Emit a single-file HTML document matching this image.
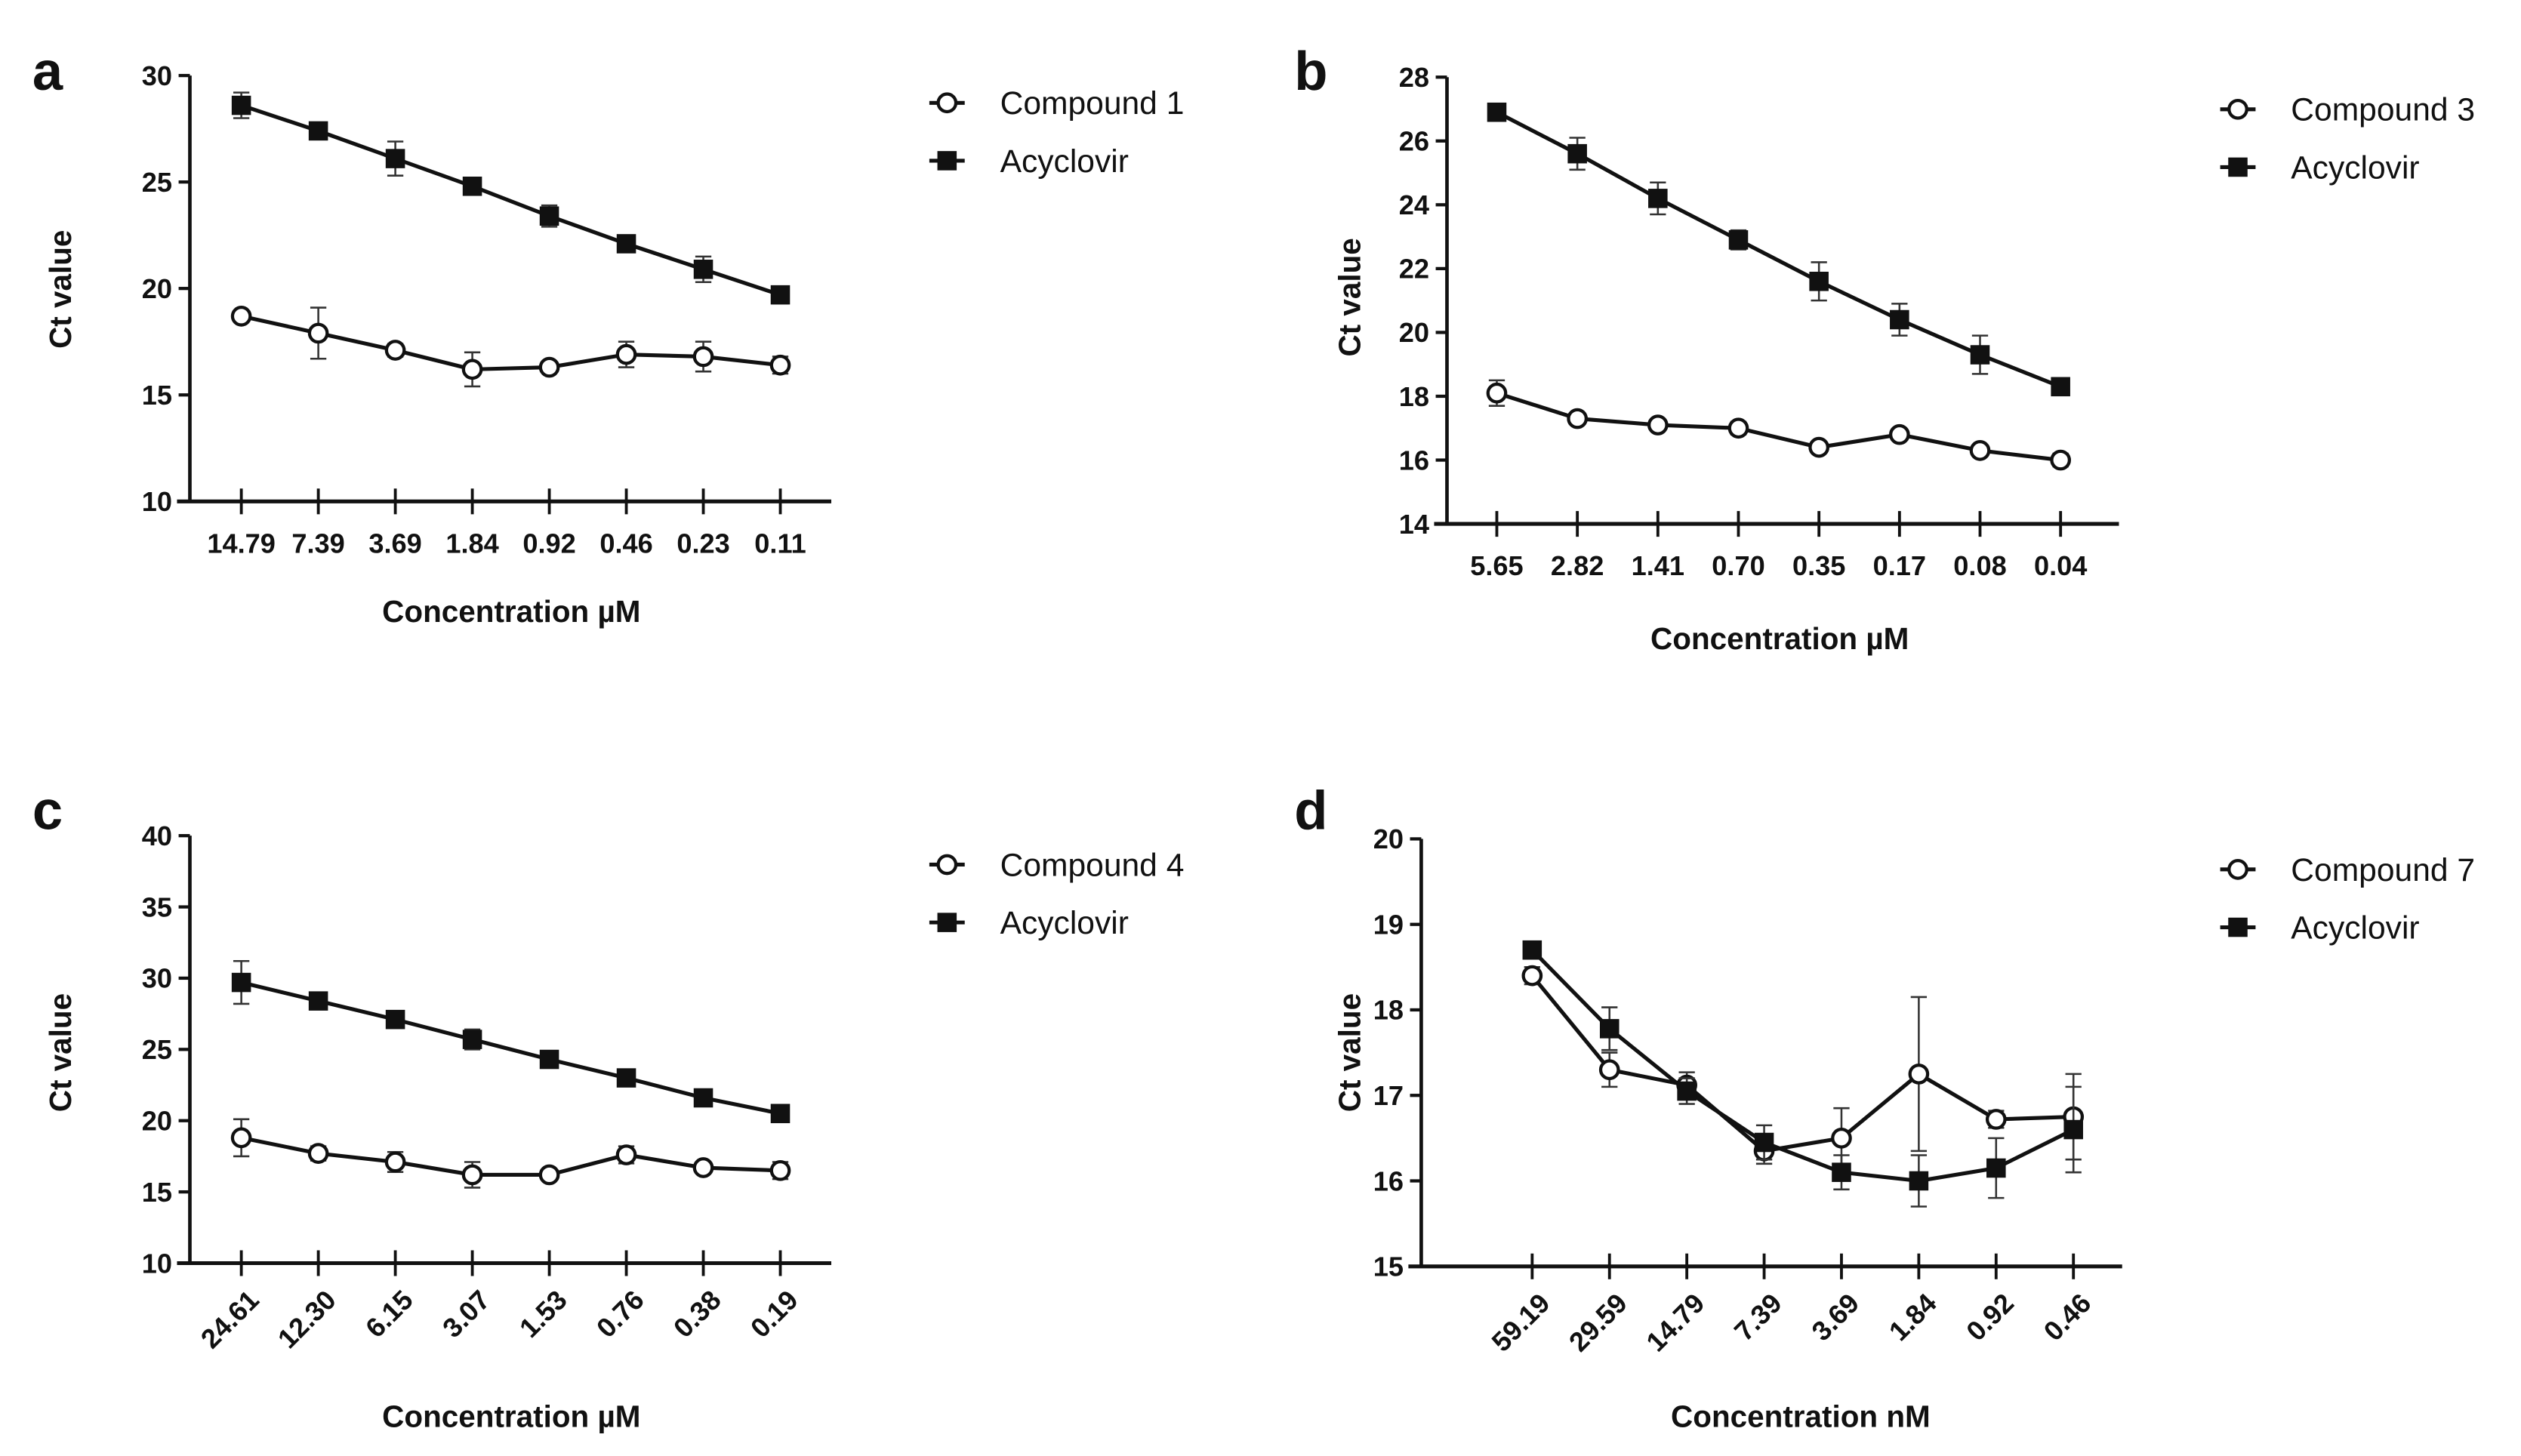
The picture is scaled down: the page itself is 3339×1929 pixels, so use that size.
<!DOCTYPE html>
<html><head><meta charset="utf-8"><style>
html,body{margin:0;padding:0;background:#fff}
svg{display:block}
text{font-family:"Liberation Sans",Arial,sans-serif;fill:#111}
</style></head><body>
<svg id="fig" width="3339" height="1929" viewBox="0 0 1568 906" xmlns="http://www.w3.org/2000/svg"></svg>
<script>
const catsA=["14.79","7.39","3.69","1.84","0.92","0.46","0.23","0.11"];
const acyA=[28.6,27.4,26.1,24.8,23.4,22.1,20.9,19.7];
const acyAErr=[0.6,0.2,0.8,0.2,0.5,0.3,0.6,0.4];
const cmpA=[18.7,17.9,17.1,16.2,16.3,16.9,16.8,16.4];
const cmpAErr=[0.2,1.2,0.3,0.8,0.2,0.6,0.7,0.4];
const ticksA=[10,15,20,25,30];

const catsB=["5.65","2.82","1.41","0.70","0.35","0.17","0.08","0.04"];
const acyB=[26.9,25.6,24.2,22.9,21.6,20.4,19.3,18.3];
const acyBErr=[0.1,0.5,0.5,0.3,0.6,0.5,0.6,0.1];
const cmpB=[18.1,17.3,17.1,17.0,16.4,16.8,16.3,16.0];
const cmpBErr=[0.4,0.1,0.1,0.2,0.1,0.1,0.1,0.2];
const ticksB=[14,16,18,20,22,24,26,28];

const catsC=["24.61","12.30","6.15","3.07","1.53","0.76","0.38","0.19"];
const acyC=[29.7,28.4,27.1,25.7,24.3,23.0,21.6,20.5];
const acyCErr=[1.5,0.3,0.5,0.7,0.2,0.3,0.2,0.6];
const cmpC=[18.8,17.7,17.1,16.2,16.2,17.6,16.7,16.5];
const cmpCErr=[1.3,0.5,0.7,0.9,0.3,0.6,0.2,0.6];
const ticksC=[10,15,20,25,30,35,40];

const catsD=["59.19","29.59","14.79","7.39","3.69","1.84","0.92","0.46"];
const acyD=[18.7,17.78,17.05,16.45,16.1,16.0,16.15,16.6];
const acyDErr=[0.1,0.25,0.15,0.2,0.2,0.3,0.35,0.5];
const cmpD=[18.4,17.3,17.12,16.35,16.5,17.25,16.72,16.75];
const cmpDErr=[0.1,0.2,0.15,0.15,0.35,0.9,0.1,0.5];
const ticksD=[15,16,17,18,19,20];

const NS="http://www.w3.org/2000/svg";
const svg=document.getElementById('fig');
function mk(tag,attrs,parent,txt){const e=document.createElementNS(NS,tag);for(const k in attrs)e.setAttribute(k,attrs[k]);if(txt!==undefined)e.textContent=txt;(parent||svg).appendChild(e);return e;}

function panel(p){
  const g=mk('g',{});
  
  
  const lo=p.ticks[0],hi=p.ticks[p.ticks.length-1];
  const y=v=>p.yBot-(v-lo)/(hi-lo)*(p.yBot-p.yTop);
  const x=i=>p.x0+i*p.step;
  const lbl=mk('text',{x:p.lx,y:p.ly,'font-size':34,'font-weight':'bold'},g,p.letter);
  
  
  const ya=mk('line',{x1:p.ax,y1:y(hi),x2:p.ax,y2:p.yBot,stroke:'#111','stroke-width':2.2},g);
  
  
  p.ticks.forEach(t=>{
    mk('line',{x1:p.ax-7,y1:y(t),x2:p.ax,y2:y(t),stroke:'#111','stroke-width':2},g);
    const tl=mk('text',{x:p.ax-11,y:y(t)+6,'font-size':17,'font-weight':'bold','text-anchor':'end'},g,String(t));
    
    
  });
  const xa=mk('line',{x1:p.ax-8,y1:p.yBot,x2:p.xEnd,y2:p.yBot,stroke:'#111','stroke-width':2.4},g);
  
  
  p.cats.forEach((c,i)=>{
    mk('line',{x1:x(i),y1:p.yBot-8,x2:x(i),y2:p.yBot+8,stroke:'#111','stroke-width':1.8},g);
    let tl;
    if(p.rot){
      tl=mk('text',{x:x(i)+12,y:p.yBot+24,'font-size':17,'font-weight':'bold','text-anchor':'end',transform:`rotate(-45 ${x(i)+12} ${p.yBot+24})`},g,c);
    }else{
      tl=mk('text',{x:x(i),y:p.yBot+32,'font-size':17,'font-weight':'bold','text-anchor':'middle'},g,c);
    }
    
    
  });
  const yt=mk('text',{x:p.ytx,y:p.yty,'font-size':19,'font-weight':'bold','text-anchor':'middle',transform:`rotate(-90 ${p.ytx} ${p.yty})`},g,'Ct value');
  
  
  const xt=mk('text',{x:p.xtx,y:p.xty,'font-size':19,'font-weight':'bold','text-anchor':'middle'},g,p.xtitle);
  
  
  [[p.cmp,p.cmpErr,'circle'],[p.acy,p.acyErr,'square']].forEach(([vals,errs,shape])=>{
    const sg=mk('g',{},g);
    
    
    vals.forEach((v,i)=>{
      const e=errs[i];
      mk('line',{x1:x(i),y1:y(v-e),x2:x(i),y2:y(v+e),stroke:'#333','stroke-width':1.2},sg);
      mk('line',{x1:x(i)-5,y1:y(v-e),x2:x(i)+5,y2:y(v-e),stroke:'#333','stroke-width':1.2},sg);
      mk('line',{x1:x(i)-5,y1:y(v+e),x2:x(i)+5,y2:y(v+e),stroke:'#333','stroke-width':1.2},sg);
    });
    const pl=mk('polyline',{points:vals.map((v,i)=>x(i)+','+y(v)).join(' '),fill:'none',stroke:'#111','stroke-width':2.4},sg);
    
    
    vals.forEach((v,i)=>{
      let m;
      if(shape==='circle') m=mk('circle',{cx:x(i),cy:y(v),r:5.5,fill:'#fff',stroke:'#111','stroke-width':2},sg);
      else m=mk('rect',{x:x(i)-6,y:y(v)-6,width:12,height:12,fill:'#111'},sg);
      
      
    });
  });
  const lg=mk('g',{},g);
  
  
  [[p.cname,'circle',p.legY],['Acyclovir','square',p.legY+36]].forEach(([name,shape,ly])=>{
    const eg=mk('g',{},lg);
    
    
    mk('line',{x1:p.legX-11,y1:ly,x2:p.legX+11,y2:ly,stroke:'#111','stroke-width':2.4},eg);
    if(shape==='circle') mk('circle',{cx:p.legX,cy:ly,r:5.5,fill:'#fff',stroke:'#111','stroke-width':2},eg);
    else mk('rect',{x:p.legX-6,y:ly-6,width:12,height:12,fill:'#111'},eg);
    mk('text',{x:p.legX+33,y:ly+7,'font-size':20},eg,name);
  });
}
panel({letter:'a',lx:20,ly:56,ax:118,yTop:47,yBot:312,ticks:ticksA,x0:150,step:47.9,xEnd:517,cats:catsA,rot:false,
  acy:acyA,acyErr:acyAErr,cmp:cmpA,cmpErr:cmpAErr,ytx:44,yty:180,xtx:318,xty:387,xtitle:'Concentration \u00b5M',cname:'Compound 1',legX:589,legY:64});
panel({letter:'b',lx:805,ly:56,ax:900,yTop:48,yBot:326,ticks:ticksB,x0:931,step:50.1,xEnd:1318,cats:catsB,rot:false,
  acy:acyB,acyErr:acyBErr,cmp:cmpB,cmpErr:cmpBErr,ytx:846,yty:185,xtx:1107,xty:404,xtitle:'Concentration \u00b5M',cname:'Compound 3',legX:1392,legY:68});
panel({letter:'c',lx:20,ly:516,ax:118,yTop:520,yBot:786,ticks:ticksC,x0:150,step:47.9,xEnd:517,cats:catsC,rot:true,
  acy:acyC,acyErr:acyCErr,cmp:cmpC,cmpErr:cmpCErr,ytx:44,yty:655,xtx:318,xty:888,xtitle:'Concentration \u00b5M',cname:'Compound 4',legX:589,legY:538});
panel({letter:'d',lx:805,ly:516,ax:884,yTop:522,yBot:788,ticks:ticksD,x0:953,step:48.1,xEnd:1320,cats:catsD,rot:true,
  acy:acyD,acyErr:acyDErr,cmp:cmpD,cmpErr:cmpDErr,ytx:846,yty:655,xtx:1120,xty:888,xtitle:'Concentration nM',cname:'Compound 7',legX:1392,legY:541});
</script>
</body></html>
